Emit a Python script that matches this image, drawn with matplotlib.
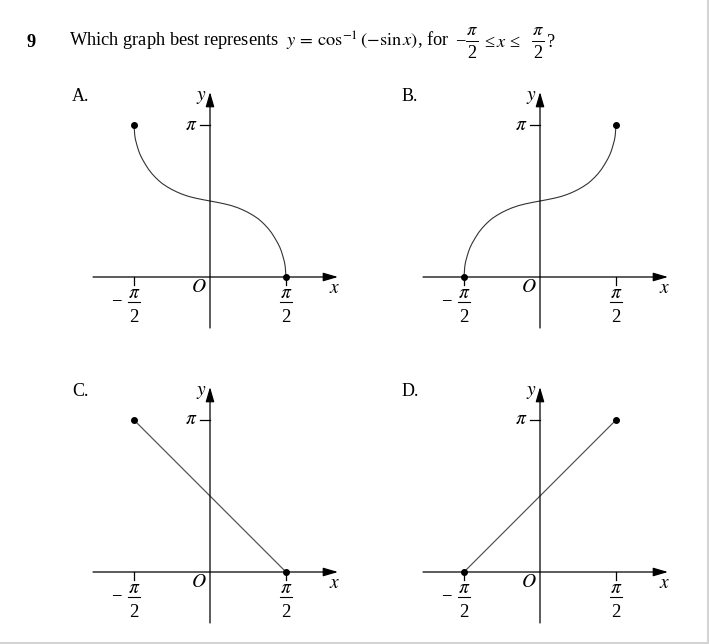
import numpy as np
import matplotlib
matplotlib.use("Agg")
import matplotlib.pyplot as plt
from matplotlib.lines import Line2D

plt.rcParams["font.family"] = ["Liberation Serif", "DejaVu Serif"]
plt.rcParams["mathtext.fontset"] = "stix"

W, H = 709, 644

# four answer options
panel_labels = ["A.", "B.", "C.", "D."]
panel_origins = [(210, 277), (540, 277), (210, 572), (540, 572)]  # pixel position of O
curve_kind = ["curve", "curve", "line", "line"]
y_at_left = [np.pi, 0.0, np.pi, 0.0]     # value at x = -pi/2
y_at_right = [0.0, np.pi, 0.0, np.pi]    # value at x = pi/2
x_ends = [-np.pi / 2, np.pi / 2]

curve_x = [-0.5, -0.495, -0.49, -0.48, -0.47, -0.46, -0.447, -0.425, -0.404, -0.382,
           -0.36, -0.338, -0.316, -0.283, -0.25, -0.217, -0.184, -0.14, -0.096, -0.048,
           0.0, 0.048, 0.096, 0.14, 0.184, 0.217, 0.25, 0.283, 0.316, 0.338,
           0.36, 0.382, 0.404, 0.425, 0.447, 0.46, 0.47, 0.48, 0.49, 0.495, 0.5]
curve_a_y = [1.0, 0.932, 0.902, 0.865, 0.832, 0.806, 0.779, 0.741, 0.708, 0.680,
             0.656, 0.635, 0.616, 0.594, 0.575, 0.559, 0.545, 0.530, 0.519, 0.509,
             0.5, 0.491, 0.481, 0.470, 0.455, 0.441, 0.425, 0.406, 0.384, 0.365,
             0.344, 0.320, 0.292, 0.259, 0.221, 0.194, 0.168, 0.135, 0.098, 0.068, 0.0]
# option B is the mirror image of A
curve_b_y = curve_a_y[::-1]
curve_y = {"A.": curve_a_y, "B.": curve_b_y}

s = 76 / (np.pi / 2)  # pixels per unit


def px(v):
    return v / s


fig = plt.figure(figsize=(W / 100, H / 100), dpi=100)
fig.patch.set_facecolor("white")
renderer = fig.canvas.get_renderer()

# ---- question line ----
fs = 13.2
base = 1 - 47 / H
fig.text(31 / W, base, "9", fontsize=fs, fontweight="bold", ha="center", va="baseline")
t1 = fig.text(69 / W, base,
              r"Which graph best represents  $y\,=\,\cos^{-1}(-\sin x)$, for",
              fontsize=fs, ha="left", va="baseline")
x_end = t1.get_window_extent(renderer).x1


def title_frac(xc):
    fig.text(xc / W, 1 - 35 / H, r"$\pi$", fontsize=fs, ha="center", va="baseline")
    fig.text(xc / W, 1 - 58 / H, "2", fontsize=fs, ha="center", va="baseline")
    fig.add_artist(Line2D([(xc - 6) / W, (xc + 6) / W], [1 - 40.5 / H] * 2,
                          color="black", lw=0.7))


def put(x_left, txt):
    t = fig.text(x_left / W, base, txt, fontsize=fs, ha="left", va="baseline")
    return t.get_window_extent(renderer).x1


fig.text((x_end + 11) / W, 1 - 40.5 / H, "\u2212", fontsize=fs, ha="center", va="center")
title_frac(x_end + 22.5)
x_cur = put(x_end + 35, "\u2264")
x_cur = put(x_cur + 2, r"$x$")
x_cur = put(x_cur + 2, "\u2264")
title_frac(x_cur + 19)
put(x_cur + 28, "?")

# ---- the four graphs ----
for lab, (ox, oy), kind, yl, yr in zip(panel_labels, panel_origins,
                                       curve_kind, y_at_left, y_at_right):
    ax = fig.add_axes([(ox - 150) / W, 1 - (oy + 70) / H, 300 / W, 280 / H])
    ax.set_xlim(-px(150), px(150))
    ax.set_ylim(-px(70), px(210))
    ax.axis("off")

    arrow = dict(arrowstyle="-|>,head_length=0.75,head_width=0.22",
                 lw=0.9, color="black", mutation_scale=12,
                 shrinkA=0, shrinkB=0)
    ax.annotate("", xy=(px(128), 0), xytext=(-px(117), 0), arrowprops=arrow)
    ax.annotate("", xy=(0, px(185)), xytext=(0, -px(51)), arrowprops=arrow)

    # ticks
    ax.plot([-px(10), 0], [np.pi, np.pi], color="black", lw=0.9)
    for xt in x_ends:
        ax.plot([xt, xt], [0, -px(8)], color="black", lw=0.9)

    # curve
    if kind == "curve":
        ax.plot(np.array(curve_x) * np.pi, np.array(curve_y[lab]) * np.pi,
                color="#333333", lw=0.8, solid_joinstyle="round")
    else:
        ax.plot(x_ends, [yl, yr], color="#555555", lw=0.9)
    ax.plot(x_ends, [yl, yr], "o", color="black", ms=4, zorder=5)

    # labels
    ax.text(-px(138), px(176.5), lab, fontsize=13, ha="left", va="baseline")
    ax.text(-px(3), px(177), r"$y$", fontsize=14, ha="right", va="baseline")
    ax.text(px(125), -px(16), r"$x$", fontsize=14, ha="center", va="baseline")
    ax.text(-px(11.5), -px(15), r"$O$", fontsize=14, ha="center", va="baseline")
    ax.text(-px(13), np.pi, r"$\pi$", fontsize=14, ha="right", va="center")
    for xt in x_ends:
        ax.text(xt, -px(21), r"$\pi$", fontsize=14, ha="center", va="baseline")
        ax.text(xt, -px(45), "2", fontsize=13.5, ha="center", va="baseline")
        ax.plot([xt - px(6), xt + px(6)], [-px(25), -px(25)], color="black", lw=0.8)
    ax.text(x_ends[0] - px(18), -px(25), "\u2212", fontsize=13.5, ha="center", va="center")

# light frame on the right and bottom edges
fig.add_artist(Line2D([707.5 / W, 707.5 / W], [1 - 643 / H, 1], color="#d4d4d4", lw=1.5))
fig.add_artist(Line2D([0, 707.5 / W], [1 - 642.5 / H, 1 - 642.5 / H], color="#d4d4d4", lw=1.5))

fig.savefig("out.png", dpi=100)
